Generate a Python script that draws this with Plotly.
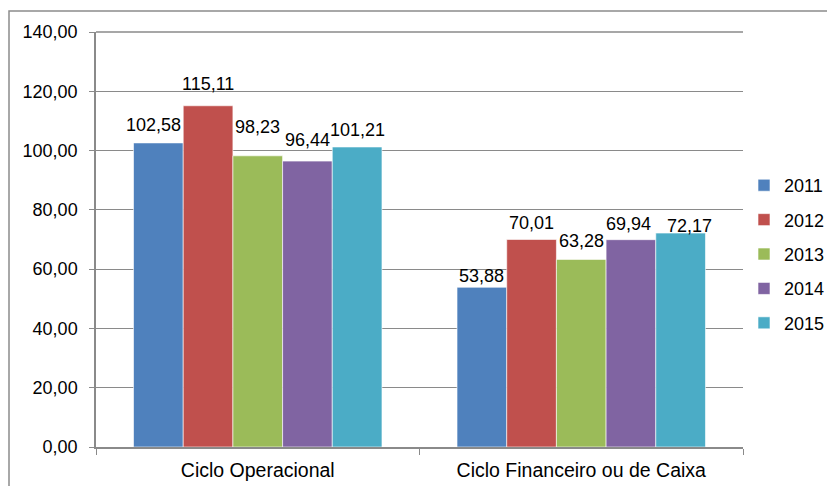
import plotly.graph_objects as go

categories = ["Ciclo Operacional", "Ciclo Financeiro ou de Caixa"]
years = ["2011", "2012", "2013", "2014", "2015"]
values = {
    "2011": [102.58, 53.88],
    "2012": [115.11, 70.01],
    "2013": [98.23, 63.28],
    "2014": [96.44, 69.94],
    "2015": [101.21, 72.17],
}
colors = ["#4F81BD", "#C0504D", "#9BBB59", "#8064A2", "#4BACC6"]
y_ticks = [0, 20, 40, 60, 80, 100, 120, 140]

# label placement nudges (pixels), per year: [group1, group2]
label_lift = {"2011": [18, 11], "2012": [22, 16], "2013": [29, 18], "2014": [21, 16], "2015": [17, 7]}
label_nudge = {"2011": [-5, 0], "2012": [0, 0], "2013": [0, 0], "2014": [0, -2], "2015": [0, 9]}

FONT = "Liberation Sans, Arial"
FS = 18
PLOT_W, PLOT_H = 647, 415
BARGAP = 0.232

fig = go.Figure()
for i, yr in enumerate(years):
    vals = values[yr]
    fig.add_trace(go.Bar(
        name=yr, x=categories, y=vals,
        marker=dict(color=colors[i], line=dict(color="white", width=0.6)),
        legendgroup=yr,
    ))

bar_px = PLOT_W / len(categories) * (1 - BARGAP) / len(years)
annotations = []
for i, yr in enumerate(years):
    for j, cat in enumerate(categories):
        v = values[yr][j]
        annotations.append(dict(
            x=cat, y=v, xref="x", yref="y", showarrow=False,
            text=f"{v:.2f}".replace(".", ","),
            xanchor="center", yanchor="middle",
            xshift=(i - (len(years) - 1) / 2) * bar_px + label_nudge[yr][j],
            yshift=label_lift[yr][j],
            font=dict(family=FONT, size=FS, color="black"),
        ))

# page body has an 8px default margin: compensate so plot area sits at x 96..743, y 32..447
fig.update_layout(
    width=827, height=478,
    margin=dict(l=88, r=92, t=24, b=39, autoexpand=False),
    paper_bgcolor="white", plot_bgcolor="white",
    barmode="group", bargap=BARGAP, bargroupgap=0,
    separators=",.",
    font=dict(family=FONT, size=FS, color="black"),
    legend=dict(x=1 + 1 / PLOT_W, y=0.465, xanchor="left", yanchor="middle",
                font=dict(size=FS), tracegroupgap=8, itemwidth=30,
                borderwidth=0, bgcolor="rgba(0,0,0,0)"),
    showlegend=True,
    annotations=annotations,
    shapes=[dict(type="rect", xref="paper", yref="paper",
                 x0=-87 / PLOT_W, x1=1 + 120 / PLOT_W, y0=-60 / PLOT_H, y1=1 + 21 / PLOT_H,
                 line=dict(color="#8c8c8c", width=1.5), layer="below")],
)
fig.update_yaxes(range=[0, 140], tickvals=y_ticks, tickformat=".2f",
                 showgrid=True, gridcolor="#8a8a8a", gridwidth=1,
                 showline=True, linecolor="#8a8a8a", linewidth=1.5,
                 ticks="outside", ticklen=5, tickcolor="#8a8a8a", zeroline=False,
                 tickfont=dict(size=FS), ticklabelstandoff=8)
fig.update_xaxes(showline=True, linecolor="#8a8a8a", linewidth=1.5,
                 ticks="outside", tickson="boundaries", ticklen=6, tickcolor="#8a8a8a",
                 tickfont=dict(size=19.5), mirror=False, ticklabelstandoff=5)
fig.add_shape(type="line", xref="paper", yref="paper", x0=0, x1=1, y0=1, y1=1,
              line=dict(color="#8a8a8a", width=1.5))

fig.write_html("out.html")
